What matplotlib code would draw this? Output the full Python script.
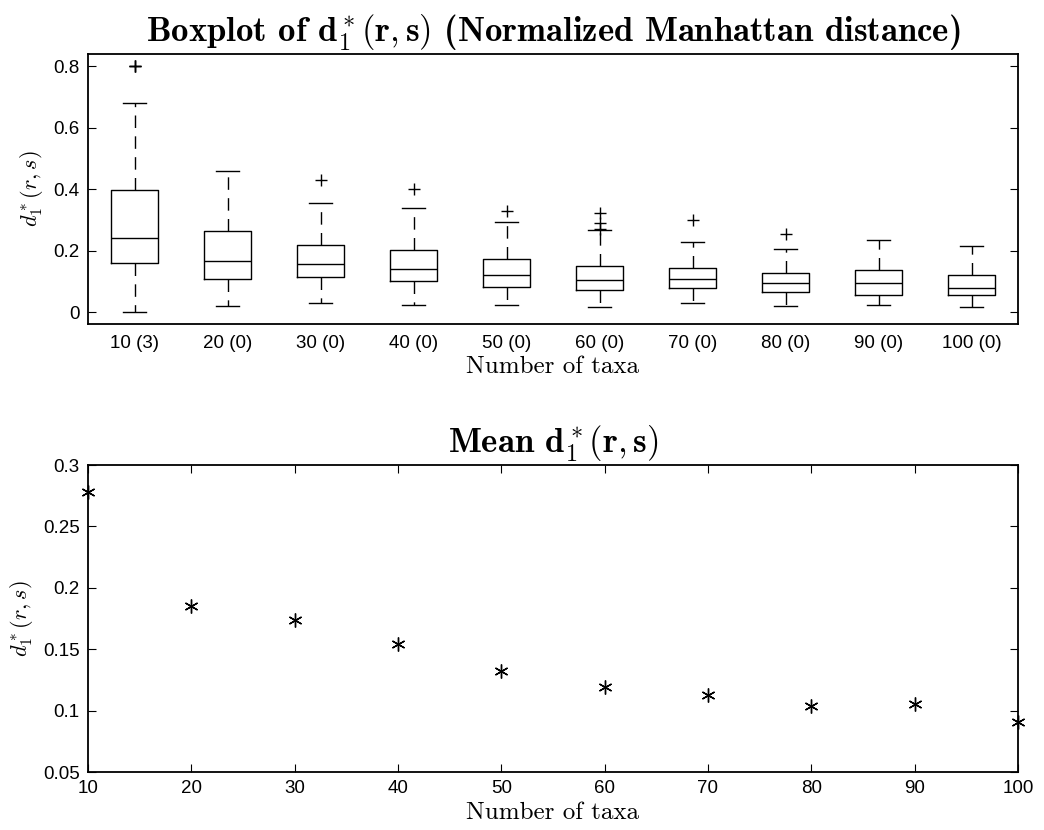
import matplotlib
matplotlib.use("Agg")
import matplotlib.pyplot as plt

plt.rcParams['mathtext.fontset'] = 'cm'
plt.rcParams['font.family'] = 'Liberation Sans'

# ---- data ----
labels = ['10 (3)', '20 (0)', '30 (0)', '40 (0)', '50 (0)',
          '60 (0)', '70 (0)', '80 (0)', '90 (0)', '100 (0)']
q1      = [0.160, 0.109, 0.114, 0.103, 0.082, 0.072, 0.080, 0.066, 0.055, 0.056]
median  = [0.241, 0.167, 0.158, 0.141, 0.121, 0.106, 0.107, 0.096, 0.094, 0.080]
q3      = [0.399, 0.265, 0.220, 0.204, 0.174, 0.152, 0.144, 0.129, 0.139, 0.120]
whislo  = [0.000, 0.021, 0.030, 0.025, 0.025, 0.018, 0.029, 0.022, 0.025, 0.018]
whishi  = [0.682, 0.459, 0.355, 0.340, 0.295, 0.267, 0.229, 0.207, 0.235, 0.217]
fliers  = [[0.80, 0.80, 0.80], [], [0.430], [0.401], [0.328],
           [0.322, 0.290, 0.270], [0.300], [0.255], [], []]

taxa = [10, 20, 30, 40, 50, 60, 70, 80, 90, 100]
mean_d = [0.2777, 0.1854, 0.1736, 0.1546, 0.1323, 0.1194, 0.1129, 0.1039, 0.1055, 0.0907]

fig = plt.figure(figsize=(10.44, 8.30), dpi=100)

# ---- top: boxplot ----
ax1 = fig.add_axes([88/1044, 1-324/830, (1018-88)/1044, (324-54)/830])
stats = []
for i in range(len(labels)):
    stats.append(dict(q1=q1[i], med=median[i], q3=q3[i], whislo=whislo[i],
                      whishi=whishi[i], fliers=fliers[i], label=labels[i]))
ax1.bxp(stats, positions=range(1, len(labels)+1), widths=0.5,
        boxprops=dict(color='black', linewidth=1.0),
        medianprops=dict(color='black', linewidth=1.0),
        whiskerprops=dict(color='black', linewidth=1.0, linestyle=(0, (9, 6))),
        capprops=dict(color='black', linewidth=1.0),
        flierprops=dict(marker='+', markeredgecolor='black', markersize=9, markeredgewidth=1.0),
        capwidths=0.25)
ax1.set_xlim(0.5, 10.5)
ax1.set_ylim(-0.038, 0.840)
ax1.set_yticks([0, 0.2, 0.4, 0.6, 0.8])
ax1.set_yticklabels(['0', '0.2', '0.4', '0.6', '0.8'])
ax1.tick_params(axis='y', direction='in', right=True, length=6, labelsize=13.5, pad=6)
ax1.tick_params(axis='x', length=0, labelsize=13.5, pad=8)
ax1.set_xlabel('Number of taxa', fontfamily='cmr10', fontsize=18, labelpad=3)
ax1.set_ylabel(r'$d_1^*(r,s)$', fontsize=16, labelpad=6)
ax1.set_title(r'Boxplot of $\mathbf{d_1^*(r,s)}$ (Normalized Manhattan distance)',
              fontfamily='cmb10', fontsize=25, pad=9)

# ---- bottom: mean ----
ax2 = fig.add_axes([88/1044, 1-772/830, (1018-88)/1044, (772-465)/830])
ax2.plot(taxa, mean_d, linestyle='none', marker=(6, 2, 0), color='black',
         markersize=10, markeredgewidth=1.0, clip_on=False)
ax2.set_xlim(10, 100)
ax2.set_ylim(0.05, 0.3)
ax2.set_xticks([10, 20, 30, 40, 50, 60, 70, 80, 90, 100])
ax2.set_yticks([0.05, 0.1, 0.15, 0.2, 0.25, 0.3])
ax2.set_yticklabels(['0.05', '0.1', '0.15', '0.2', '0.25', '0.3'])
ax2.tick_params(direction='in', top=True, right=True, length=6, labelsize=13.5, pad=6)
ax2.set_xlabel('Number of taxa', fontfamily='cmr10', fontsize=18, labelpad=3)
ax2.set_ylabel(r'$d_1^*(r,s)$', fontsize=16, labelpad=6)
ax2.set_title(r'Mean $\mathbf{d_1^*(r,s)}$', fontfamily='cmb10', fontsize=25, pad=9)

for ax in (ax1, ax2):
    for s in ax.spines.values():
        s.set_linewidth(1.3)

fig.savefig('out.png', dpi=100)
